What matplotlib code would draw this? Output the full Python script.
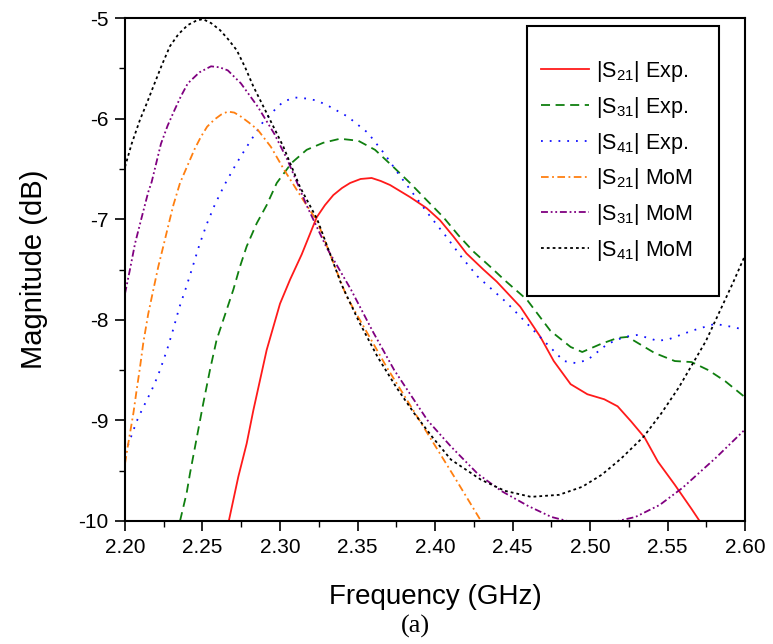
import matplotlib
matplotlib.use('Agg')
import matplotlib.pyplot as plt
import matplotlib.patches as patches
from matplotlib.ticker import MultipleLocator, FormatStrFormatter

plt.rcParams['font.family'] = ['Liberation Sans', 'DejaVu Sans']
plt.rcParams['mathtext.fontset'] = 'custom'
plt.rcParams['mathtext.rm'] = 'Liberation Sans'
plt.rcParams['mathtext.it'] = 'Liberation Sans:italic'
plt.rcParams['lines.scale_dashes'] = False

# Datos (frecuencia en GHz, magnitud en dB)
f_s21_exp = [2.2667, 2.2731, 2.2785, 2.2828, 2.2871, 2.2914, 2.2957, 2.3000, 2.3065,
             2.3140, 2.3237, 2.3290, 2.3344, 2.3400, 2.3452, 2.3520, 2.3591, 2.3650,
             2.3710, 2.3839, 2.3946, 2.4032,
             2.4118, 2.4203, 2.4312, 2.4398, 2.4550, 2.4680, 2.4766, 2.4875, 2.4983,
             2.5092, 2.5178, 2.5265, 2.5352, 2.5438, 2.5547, 2.5655, 2.5720]
s21_exp = [-10.02, -9.56, -9.23, -8.90, -8.60, -8.30, -8.07, -7.84, -7.60,
           -7.35, -6.98, -6.86, -6.76, -6.69, -6.64, -6.60, -6.59, -6.62,
           -6.66, -6.78, -6.89, -7.01,
           -7.17, -7.34, -7.50, -7.62, -7.87, -8.17, -8.41, -8.64, -8.74,
           -8.79, -8.86, -9.01, -9.17, -9.41, -9.64, -9.88, -10.03]

f_s31_exp = [2.2355, 2.2398, 2.2419, 2.2462, 2.2505, 2.2548, 2.2591, 2.2656, 2.2699,
             2.2742, 2.2785, 2.2850, 2.2914, 2.2979, 2.3075, 2.3172, 2.3279, 2.3387,
             2.3505, 2.3613, 2.3731, 2.3839, 2.3946, 2.4054, 2.4151, 2.4247, 2.4355,
             2.4452, 2.4593, 2.4745, 2.4875, 2.4950, 2.5070, 2.5178, 2.5243, 2.5417,
             2.5547, 2.5655, 2.5763, 2.5872, 2.6000]
s31_exp = [-10.0, -9.72, -9.53, -9.18, -8.83, -8.50, -8.20, -7.90, -7.70,
           -7.47, -7.27, -7.04, -6.86, -6.64, -6.44, -6.31, -6.24, -6.20,
           -6.22, -6.31, -6.48, -6.64, -6.81, -6.98, -7.16, -7.32, -7.47,
           -7.61, -7.80, -8.11, -8.27, -8.32, -8.24, -8.18, -8.17, -8.33,
           -8.41, -8.42, -8.50, -8.61, -8.77]

f_s41_exp = [2.2000, 2.2075, 2.2108, 2.2140, 2.2172, 2.2200, 2.2226, 2.2273, 2.2312,
             2.2350, 2.2394, 2.2437, 2.2479, 2.2527, 2.2581, 2.2645, 2.2721, 2.2806,
             2.2892, 2.2968, 2.3022, 2.3097, 2.3168, 2.3237, 2.3308, 2.3437, 2.3566,
             2.3674, 2.3760, 2.3866, 2.3963, 2.4071, 2.4168, 2.4275, 2.4463, 2.4658,
             2.4831, 2.4907, 2.4983, 2.5113, 2.5221, 2.5308, 2.5438, 2.5514, 2.5655,
             2.5806, 2.5916, 2.6000]
s41_exp = [-9.33, -9.01, -8.90, -8.80, -8.70, -8.60, -8.50, -8.29, -8.09,
           -7.88, -7.68, -7.47, -7.26, -7.05, -6.85, -6.65, -6.44, -6.23,
           -6.03, -5.91, -5.83, -5.79, -5.80, -5.82, -5.87, -5.98, -6.14,
           -6.35, -6.54, -6.76, -6.96, -7.17, -7.37, -7.57, -7.83, -8.14,
           -8.41, -8.43, -8.40, -8.24, -8.17, -8.15, -8.21, -8.19, -8.11,
           -8.04, -8.07, -8.10]

f_s21_mom = [2.2000, 2.2021, 2.2054, 2.2075, 2.2097, 2.2118, 2.2150, 2.2183, 2.2215,
             2.2247, 2.2280, 2.2312, 2.2355, 2.2405, 2.2450, 2.2490, 2.2530, 2.2576,
             2.2620, 2.2663, 2.2705, 2.2748, 2.2800,
             2.2856, 2.2941, 2.3027, 2.3150, 2.3240, 2.3430, 2.3688, 2.3952, 2.4124,
             2.4297]
s21_mom = [-9.43, -9.23, -8.93, -8.70, -8.47, -8.23, -7.94, -7.70, -7.47,
           -7.27, -7.06, -6.86, -6.64, -6.46, -6.30, -6.18, -6.08, -6.01,
           -5.96, -5.93, -5.94, -5.98, -6.04,
           -6.11, -6.28, -6.51, -6.81, -7.02, -7.77, -8.47, -9.13, -9.56,
           -10.0]

f_s31_mom = [2.2000, 2.2032, 2.2065, 2.2108, 2.2150, 2.2172, 2.2232, 2.2275, 2.2318,
             2.2360, 2.2405, 2.2480, 2.2555, 2.2610, 2.2663, 2.2748, 2.2856, 2.2963,
             2.3048, 2.3177, 2.3300, 2.3458, 2.3600, 2.3737,
             2.3952, 2.4103, 2.4275, 2.4426, 2.4600, 2.4751, 2.4880, 2.5011, 2.5150,
             2.5293, 2.5450, 2.5597, 2.5813, 2.6000]
s31_mom = [-7.74, -7.50, -7.24, -6.98, -6.73, -6.63, -6.25, -6.07, -5.92,
           -5.78, -5.65, -5.54, -5.48, -5.49, -5.52, -5.65, -5.88, -6.15,
           -6.41, -6.88, -7.28, -7.70, -8.12, -8.50,
           -9.00, -9.26, -9.53, -9.70, -9.85, -9.96, -10.01, -10.03, -10.01,
           -9.96, -9.84, -9.67, -9.37, -9.09]

f_s41_mom = [2.2000, 2.2043, 2.2097, 2.2140, 2.2183, 2.2237, 2.2290, 2.2345, 2.2405,
             2.2455, 2.2501, 2.2555, 2.2613, 2.2665, 2.2721, 2.2775, 2.2828, 2.2935,
             2.3022, 2.3129, 2.3240, 2.3394, 2.3510, 2.3630, 2.3750,
             2.3866, 2.3985, 2.4103, 2.4297, 2.4450, 2.4619, 2.4800, 2.4950, 2.5076,
             2.5200, 2.5347, 2.5460, 2.5574, 2.5748, 2.5923, 2.6000]
s41_mom = [-6.48, -6.25, -6.01, -5.85, -5.68, -5.47, -5.28, -5.16, -5.07,
           -5.03, -5.01, -5.05, -5.12, -5.21, -5.32, -5.49, -5.68, -6.01,
           -6.28, -6.68, -7.00, -7.64, -8.02, -8.37, -8.67,
           -8.93, -9.17, -9.39, -9.59, -9.70, -9.76, -9.74, -9.66, -9.54,
           -9.38, -9.16, -8.93, -8.67, -8.21, -7.63, -7.36]

etiquetas = ['|S$_{21}$| Exp.', '|S$_{31}$| Exp.', '|S$_{41}$| Exp.',
             '|S$_{21}$| MoM', '|S$_{31}$| MoM', '|S$_{41}$| MoM']

# Estilos de cada curva
curvas = [
    (f_s21_exp, s21_exp, '#ff1a1a', None),
    (f_s31_exp, s31_exp, '#0f7f0f', (6.5, 4.0)),
    (f_s41_exp, s41_exp, '#1010ff', (1.3, 5.0)),
    (f_s21_mom, s21_mom, '#ff7f10', (5.5, 2.5, 1.3, 2.5)),
    (f_s31_mom, s31_mom, '#800080', (5.0, 2.0, 1.3, 2.0, 1.3, 2.0)),
    (f_s41_mom, s41_mom, '#000000', (2.0, 2.2)),
]

fig = plt.figure(figsize=(7.73, 6.44), dpi=100)
ax = fig.add_axes([0.1617, 0.191, 0.8021, 0.781])

for (fx, fy, color, dashes), lab in zip(curvas, etiquetas):
    linea, = ax.plot(fx, fy, color=color, lw=1.3, label=lab)
    if dashes is not None:
        linea.set_dashes(dashes)

ax.set_xlim(2.2, 2.6)
ax.set_ylim(-10, -5)
ax.xaxis.set_major_locator(MultipleLocator(0.05))
ax.xaxis.set_minor_locator(MultipleLocator(0.025))
ax.yaxis.set_major_locator(MultipleLocator(1))
ax.yaxis.set_minor_locator(MultipleLocator(0.5))
ax.xaxis.set_major_formatter(FormatStrFormatter('%.2f'))
ax.yaxis.set_major_formatter(FormatStrFormatter('%d'))
ax.tick_params(which='major', direction='out', length=7, width=1.2, labelsize=15, pad=5)
ax.tick_params(which='minor', direction='out', length=4, width=1.0)
for s in ax.spines.values():
    s.set_linewidth(1.5)

ax.set_xlabel('Frequency (GHz)', fontsize=20, labelpad=20)
ax.set_ylabel('Magnitude (dB)', fontsize=21, labelpad=22)

# Caja de la leyenda
caja = patches.Rectangle((0.648, 0.447), 0.31, 0.537, transform=ax.transAxes,
                         fill=False, edgecolor='black', lw=1.5, zorder=5)
ax.add_patch(caja)
ax.legend(loc='upper left', bbox_to_anchor=(0.654, 0.94), frameon=False,
          fontsize=15.5, borderpad=0, handlelength=2.2, handletextpad=0.35,
          labelspacing=0.5)

fig.text(0.537, 0.028, '(a)', fontsize=19, family='Liberation Serif',
         ha='center', va='center')

fig.savefig('out.png', dpi=100)
